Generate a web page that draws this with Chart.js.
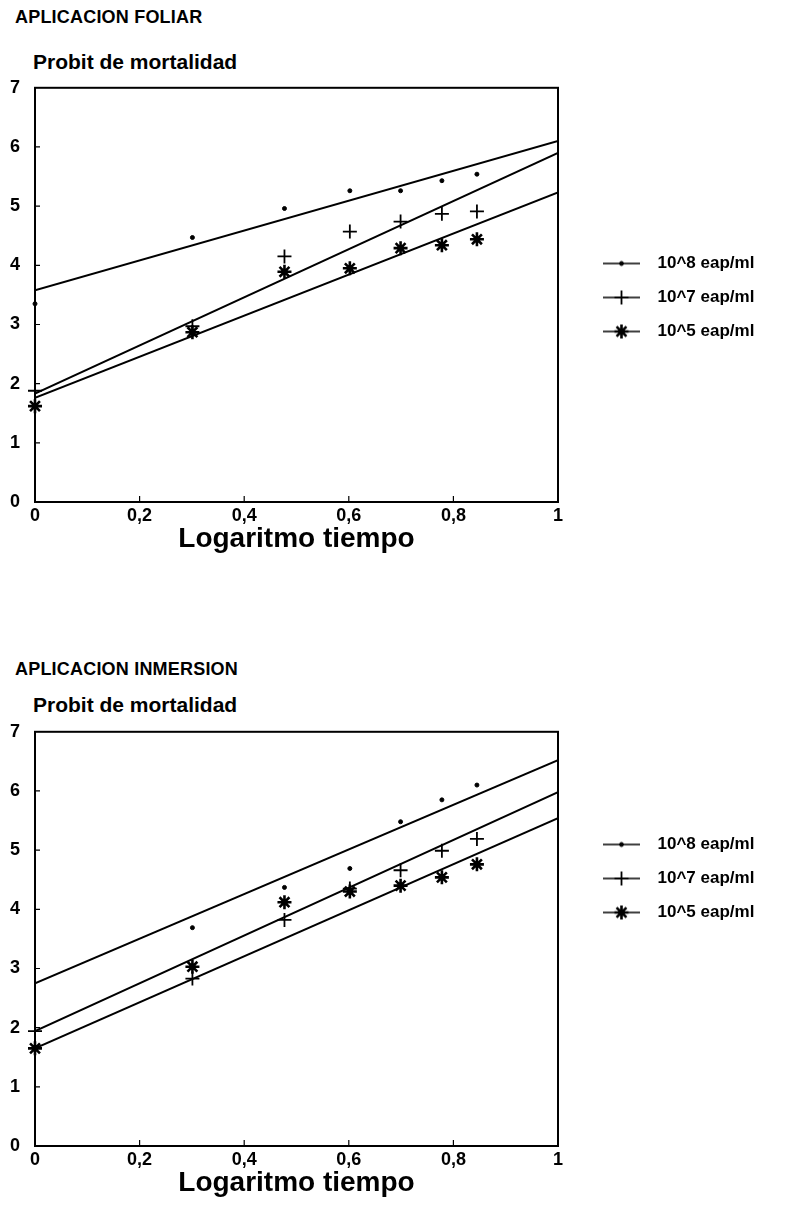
<!DOCTYPE html>
<html>
<head>
<meta charset="utf-8">
<script src="https://cdn.jsdelivr.net/npm/chart.js@4.4.0/dist/chart.umd.min.js"></script>
<style>
  body { margin: 0; background: #fff; width: 785px; height: 1216px; position: relative; overflow: hidden;
         font-family: "Liberation Sans", Arial, sans-serif; font-weight: bold; color: #000; }
  .sec { position: absolute; left: 15px; font-size: 18px; line-height: 1; letter-spacing: 0.2px; }
  .ylab { position: absolute; left: 33px; font-size: 21px; line-height: 1; }
  canvas { position: absolute; left: 0; }
</style>
</head>
<body>
<div class="sec" style="top:8px">APLICACION FOLIAR</div>
<div class="ylab" style="top:51px">Probit de mortalidad</div>
<canvas id="foliar" width="785" height="500" style="top:70px"></canvas>

<div class="sec" style="top:660px">APLICACION INMERSION</div>
<div class="ylab" style="top:694px">Probit de mortalidad</div>
<canvas id="inmersion" width="785" height="500" style="top:714px"></canvas>

<script>
// log10 of days 1..7
const logTime = [0, 0.301, 0.477, 0.602, 0.699, 0.778, 0.845];
const xTicks = [0, 0.2, 0.4, 0.6, 0.8, 1];
const xTickLabels = ["0", "0,2", "0,4", "0,6", "0,8", "1"];
const seriesLabels = ["10^8 eap/ml", "10^7 eap/ml", "10^5 eap/ml"];
const seriesStyles = ["circle", "cross", "star"];

// APLICACION FOLIAR - observed probits
const foliar8 = [3.35, 4.47, 4.96, 5.26, 5.26, 5.43, 5.54];
const foliar7 = [1.88, 2.97, 4.15, 4.57, 4.74, 4.87, 4.91];
const foliar5 = [1.62, 2.87, 3.89, 3.95, 4.29, 4.34, 4.44];
// fitted lines, value at x=0 and x=1
const foliarLineStart = [3.58, 1.83, 1.76];
const foliarLineEnd = [6.10, 5.90, 5.23];

// APLICACION INMERSION - observed probits
const inmersion8 = [null, 3.69, 4.37, 4.69, 5.48, 5.85, 6.10];
const inmersion7 = [1.94, 2.83, 3.82, 4.35, 4.66, 4.99, 5.19];
const inmersion5 = [1.65, 3.03, 4.12, 4.30, 4.40, 4.54, 4.76];
const inmersionLineStart = [2.75, 1.94, 1.65];
const inmersionLineEnd = [6.52, 5.98, 5.54];

Chart.defaults.font.family = '"Liberation Sans", Arial, sans-serif';
Chart.defaults.font.weight = 'bold';
Chart.defaults.color = '#000';

const markerSize = {circle: [2, 1], cross: [7, 1.8], star: [7, 2.6]};
const iconWidth = 74;

function legendIcon(style) {
  const c = document.createElement('canvas');
  c.width = iconWidth;
  c.height = 18;
  const g = c.getContext('2d');
  g.strokeStyle = '#000';
  g.fillStyle = '#000';
  g.lineWidth = 1.5;
  g.beginPath();
  g.moveTo(28, 9);
  g.lineTo(65, 9);
  g.stroke();
  const [r, bw] = markerSize[style];
  g.lineWidth = bw;
  Chart.helpers.drawPoint(g, {pointStyle: style, radius: r, borderWidth: bw}, 46.5, 9);
  return c;
}

// frame around the plot and small inner tick marks
const framePlugin = {
  id: 'frame',
  afterDatasetsDraw(chart) {
    const {ctx, chartArea: a, scales} = chart;
    ctx.save();
    ctx.strokeStyle = '#000';
    ctx.lineWidth = 2;
    ctx.strokeRect(a.left, a.top, a.right - a.left, a.bottom - a.top);
    ctx.lineWidth = 1.2;
    ctx.beginPath();
    for (let v = 1; v < 7; v++) {
      const y = scales.y.getPixelForValue(v);
      ctx.moveTo(a.left, y);
      ctx.lineTo(a.left + 5, y);
    }
    xTicks.slice(1, -1).forEach(v => {
      const x = scales.x.getPixelForValue(v);
      ctx.moveTo(x, a.bottom);
      ctx.lineTo(x, a.bottom - 6);
    });
    ctx.stroke();
    ctx.restore();
  }
};

function makeChart(id, points, lineStart, lineEnd, legendGap) {
  const datasets = [];
  points.forEach((vals, i) => {
    const [r, bw] = markerSize[seriesStyles[i]];
    datasets.push({
      label: seriesLabels[i],
      data: logTime.map((x, j) => ({x: x, y: vals[j]})).filter(p => p.y !== null),
      showLine: false,
      pointStyle: seriesStyles[i],
      pointRadius: r,
      pointBorderWidth: bw,
      borderColor: '#000',
      backgroundColor: '#000',
      clip: false
    });
  });
  lineStart.forEach((v, i) => {
    datasets.push({
      label: 'fit',
      data: [{x: 0, y: v}, {x: 1, y: lineEnd[i]}],
      showLine: true,
      pointRadius: 0,
      borderColor: '#000',
      borderWidth: 2
    });
  });

  const chart = new Chart(document.getElementById(id), {
    type: 'scatter',
    data: {datasets},
    options: {
      responsive: false,
      animation: false,
      devicePixelRatio: 1,
      layout: {padding: {left: 7, top: 14, right: 10, bottom: 0}},
      plugins: {
        tooltip: {enabled: false},
        legend: {
          position: 'right',
          fullSize: false,
          align: 'start',
          maxWidth: 320,
          title: {display: true, text: ' ', font: {size: 1}, padding: {top: legendGap, bottom: 0}},
          labels: {
            usePointStyle: true,
            pointStyleWidth: iconWidth,
            padding: 17,
            font: {size: 17, weight: 'bold'},
            generateLabels: () => seriesLabels.map((t, i) => ({
              text: t,
              pointStyle: legendIcon(seriesStyles[i]),
              fontColor: '#000',
              lineWidth: 0,
              datasetIndex: i
            }))
          }
        }
      },
      scales: {
        x: {
          type: 'linear',
          min: 0,
          max: 1,
          afterBuildTicks: s => { s.ticks = xTicks.map(v => ({value: v})); },
          grid: {display: false},
          border: {display: false},
          ticks: {
            font: {size: 18, weight: 'bold'},
            padding: -5,
            maxRotation: 0,
            callback: v => xTickLabels[xTicks.indexOf(v)]
          },
          title: {
            display: true,
            text: 'Logaritmo tiempo',
            font: {size: 28, weight: 'bold'},
            padding: {top: 1, bottom: 0}
          }
        },
        y: {
          min: 0,
          max: 7,
          afterFit: s => { s.width = 28; },
          grid: {display: false},
          border: {display: false},
          ticks: {stepSize: 1, font: {size: 18, weight: 'bold'}, padding: 7}
        }
      }
    },
    plugins: [framePlugin]
  });

  // pin the plot area to the reference frame
  const target = {top: 14, bottom: 432, right: 558};
  for (let k = 0; k < 4; k++) {
    const a = chart.chartArea;
    const p = chart.options.layout.padding;
    p.top = Math.max(0, p.top + target.top - a.top);
    p.bottom = Math.max(0, p.bottom + a.bottom - target.bottom);
    p.right = Math.max(0, p.right + a.right - target.right);
    chart.update('none');
  }
  return chart;
}

makeChart('foliar', [foliar8, foliar7, foliar5], foliarLineStart, foliarLineEnd, 149);
makeChart('inmersion', [inmersion8, inmersion7, inmersion5], inmersionLineStart, inmersionLineEnd, 86);
</script>
</body>
</html>
